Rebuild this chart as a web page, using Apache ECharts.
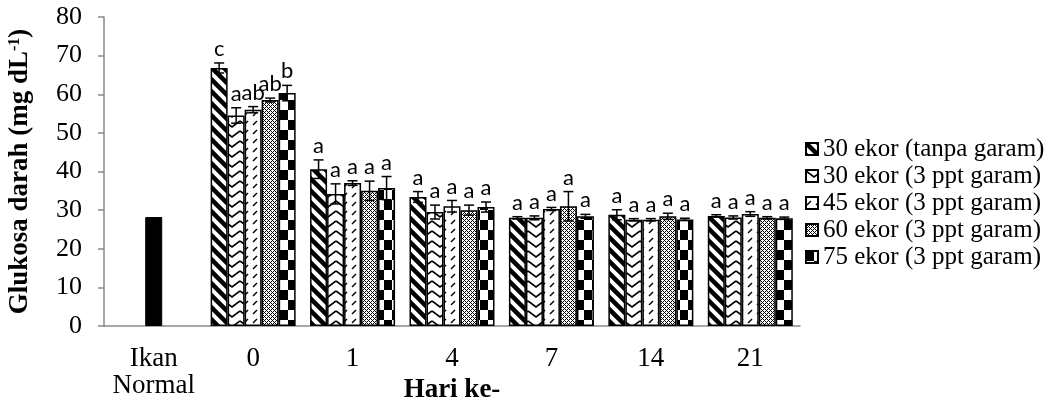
<!DOCTYPE html>
<html><head><meta charset="utf-8">
<script src="https://cdn.jsdelivr.net/npm/echarts@6/dist/echarts.min.js"></script>
<style>html,body{margin:0;padding:0;background:#fff}#c{width:1061px;height:409px}</style>
</head><body><div id="c"></div>
<script>
// ---- data ----
const categories = ['Ikan\nNormal', '0', '1', '4', '7', '14', '21'];
const seriesNames = ['30 ekor (tanpa garam)', '30 ekor (3 ppt garam)', '45 ekor (3 ppt garam)', '60 ekor (3 ppt garam)', '75 ekor (3 ppt garam)'];
const normalValues = [28.2, '-', '-', '-', '-', '-', '-'];
const s30tanpa = ['-', 66.8, 40.6, 33.4, 28.0, 28.8, 28.5];
const s30garam = ['-', 54.5, 34.2, 29.5, 28.0, 27.5, 28.1];
const s45garam = ['-', 56.0, 37.0, 31.0, 30.3, 27.5, 29.0];
const s60garam = ['-', 58.5, 35.0, 30.0, 31.0, 28.4, 28.0];
const s75garam = ['-', 60.3, 35.7, 30.8, 28.4, 27.6, 27.9];
const e30tanpa = [0, 1.3, 2.4, 1.4, 0.3, 1.3, 0.3];
const e30garam = [0, 2.0, 2.6, 1.8, 0.5, 0.3, 0.4];
const e45garam = [0, 0.8, 0.6, 1.5, 0.4, 0.3, 0.6];
const e60garam = [0, 0.5, 2.5, 1.3, 3.8, 0.8, 0.3];
const e75garam = [0, 2.0, 3.0, 1.3, 0.5, 0.3, 0.3];
const l30tanpa = ['', 'c', 'a', 'a', 'a', 'a', 'a'];
const l30garam = ['', 'a', 'a', 'a', 'a', 'a', 'a'];
const l45garam = ['', 'ab', 'a', 'a', 'a', 'a', 'a'];
const l60garam = ['', 'ab', 'a', 'a', 'a', 'a', 'a'];
const l75garam = ['', 'b', 'a', 'a', 'a', 'a', 'a'];
const yTicks = [0, 10, 20, 30, 40, 50, 60, 70, 80];

const values = [s30tanpa, s30garam, s45garam, s60garam, s75garam];
const errors = [e30tanpa, e30garam, e45garam, e60garam, e75garam];
const letters = [l30tanpa, l30garam, l45garam, l60garam, l75garam];

// ---- patterns ----
function tile(w, h, draw) {
  const c = document.createElement('canvas');
  c.width = w; c.height = h;
  const g = c.getContext('2d');
  g.fillStyle = '#fff'; g.fillRect(0, 0, w, h);
  g.strokeStyle = '#000'; g.fillStyle = '#000';
  draw(g, w, h);
  return { image: c, repeat: 'repeat' };
}
const patterns = [
  tile(12, 12, (g) => {
    g.lineWidth = 4.5;
    for (const c of [-12, 0, 12]) { g.beginPath(); g.moveTo(-2, c - 2); g.lineTo(14, c + 14); g.stroke(); }
  }),
  tile(16, 10, (g) => {
    g.lineWidth = 1.6;
    g.beginPath(); g.moveTo(0, 1); g.lineTo(8, 7); g.lineTo(16, 1); g.stroke();
  }),
  tile(9, 9, (g) => {
    g.lineWidth = 1.5;
    g.beginPath(); g.moveTo(1, 8); g.lineTo(5, 4); g.stroke();
  }),
  tile(4, 4, (g) => {
    for (let x = 0; x < 4; x++) for (let y = 0; y < 4; y++) {
      if ((x + y) % 4 === 0 || ((x - y) + 4) % 4 === 0) g.fillRect(x, y, 1, 1);
    }
  }),
  tile(16, 20, (g) => { g.fillRect(0, 0, 8, 10); g.fillRect(8, 10, 8, 10); })
];

const BW = 17;
const serif = 'Liberation Serif';

const barSeries = seriesNames.map((name, i) => ({
  name, type: 'bar', barWidth: BW, barGap: '0%',
  data: values[i],
  itemStyle: { color: patterns[i], borderColor: '#000', borderWidth: 1.5 },
  emphasis: { disabled: true }, animation: false, z: 2
}));

const errData = [];
seriesNames.forEach((n, i) => {
  values[i].forEach((v, c) => {
    if (v !== '-') errData.push([c, v, errors[i][c], i, letters[i][c]]);
  });
});

const errSeries = {
  type: 'custom', name: 'err', z: 5, animation: false, silent: true,
  data: errData,
  encode: { x: 0, y: 1 },
  renderItem: function (params, api) {
    const c = api.value(0), v = api.value(1), e = api.value(2), si = api.value(3);
    const lab = errData[params.dataIndex][4];
    const base = api.coord([c, v]);
    const x = base[0] + (si - 2) * BW;
    const yT = api.coord([c, v + e])[1];
    const yB = api.coord([c, v - e])[1];
    const st = { stroke: '#000', lineWidth: 1.5 };
    return {
      type: 'group', children: [
        { type: 'line', shape: { x1: x, y1: yT, x2: x, y2: yB }, style: st },
        { type: 'line', shape: { x1: x - 5, y1: yT, x2: x + 5, y2: yT }, style: st },
        { type: 'line', shape: { x1: x - 5, y1: yB, x2: x + 5, y2: yB }, style: st },
        { type: 'text', x: x, y: yT - 3, style: { text: lab, fill: '#000', font: '22px Lato', align: 'center', verticalAlign: 'bottom' } }
      ]
    };
  }
};

const chart = echarts.init(document.getElementById('c'), null, { renderer: 'canvas' });
chart.setOption({
  animation: false,
  backgroundColor: '#fff',
  grid: { left: 104, right: 261, top: 17, bottom: 83, containLabel: false, outerBoundsMode: 'none' },
  legend: {
    data: seriesNames, orient: 'vertical', left: 800, top: 131,
    itemWidth: 12, itemHeight: 12, itemGap: 1, icon: 'rect',
    textStyle: { fontFamily: serif, fontSize: 25, color: '#000', lineHeight: 26 },
    selectedMode: false
  },
  xAxis: [{
    type: 'category', data: categories,
    axisLine: { lineStyle: { color: '#898989', width: 1.5 } },
    axisTick: { show: false },
    axisLabel: { fontFamily: serif, fontSize: 27, color: '#000', margin: 19, lineHeight: 27, interval: 0 },
    name: 'Hari ke-', nameLocation: 'middle', nameGap: 51, nameMoveOverlap: false,
    nameTextStyle: { fontFamily: serif, fontSize: 27, fontWeight: 'bold', color: '#000' }
  }, {
    type: 'category', data: categories, show: false
  }],
  yAxis: {
    type: 'value', min: 0, max: 80, interval: 10,
    splitLine: { show: false },
    axisLine: { show: true, lineStyle: { color: '#898989', width: 1.5 } },
    axisTick: { show: true, inside: false, length: 6, lineStyle: { color: '#898989', width: 1.5 } },
    axisLabel: { fontFamily: serif, fontSize: 26, color: '#000', margin: 22,
      formatter: (v) => yTicks.includes(v) ? String(v) : '' },
    name: 'Glukosa darah (mg dL{sup|-1})', nameLocation: 'middle', nameGap: 70, nameRotate: 90, nameMoveOverlap: false,
    nameTextStyle: { fontFamily: serif, fontSize: 27, fontWeight: 'bold', color: '#000',
      rich: { sup: { fontFamily: serif, fontSize: 16, fontWeight: 'bold', color: '#000', verticalAlign: 'top', lineHeight: 27 } } }
  },
  series: [
    ...barSeries,
    { name: 'Ikan Normal', type: 'bar', xAxisIndex: 1, barWidth: BW, data: normalValues,
      itemStyle: { color: '#000', borderColor: '#000', borderWidth: 1 }, animation: false, z: 2 },
    errSeries
  ]
});
</script>
</body></html>
